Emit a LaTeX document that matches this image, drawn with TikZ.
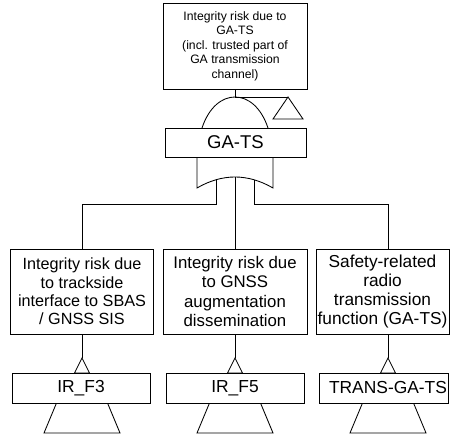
\documentclass[tikz,border=0pt]{standalone}
\usepackage{fontspec}
\setmainfont{Liberation Sans}
\begin{document}
\begin{tikzpicture}[x=1pt,y=-1pt,line width=0.85pt,line join=miter,
  evbox/.style={draw,fill=white,inner sep=0pt,align=center},
  basebox/.style={evbox,minimum height=30pt,font=\fontsize{17.4}{19}\selectfont}]
\useasboundingbox (0,0) rectangle (450,434);

% ---- top event ----
\node[evbox,minimum width=144pt,minimum height=86pt,
      font=\fontsize{12.2}{14.5}\selectfont] (top) at (235,46)
  {Integrity risk due to\\GA-TS\\(incl. trusted part of\\GA transmission\\channel)};

% OR gate with transfer triangle
\coordinate (orTop) at (235,97);
\coordinate (trA) at (288,97);
\draw (top.south) -- (orTop) -- (trA);
\draw (trA) -- (303,119) -- (273,119) -- cycle;
\draw (202,128) .. controls (209,107) and (222,97) .. (orTop)
      .. controls (248,97) and (261,107) .. (268,128);

% ---- intermediate event ----
\node[evbox,minimum width=141pt,minimum height=29pt,
      font=\fontsize{18.5}{20}\selectfont] (gats) at (235.5,142.5) {GA-TS};

% AND gate
\coordinate (andTop) at (235,177);
\draw (197,157) -- (197,188) .. controls (222.33,173.33) and (247.67,173.33) .. (273,188) -- (273,157);
\coordinate (legL) at (216,179.8);
\coordinate (legR) at (254,179.8);
\coordinate (c1) at (82,204);
\coordinate (c2) at (235,204);
\coordinate (c3) at (388,204);

% ---- basic events, upper row ----
\node[evbox,minimum width=143pt,minimum height=85pt,
      font=\fontsize{16.2}{18.3}\selectfont] (e1) at (82,291.5)
  {Integrity risk due\\to trackside\\interface to SBAS\\/ GNSS SIS};
\node[evbox,minimum width=144pt,minimum height=85pt,
      font=\fontsize{16.8}{19.3}\selectfont] (e2) at (235,291.5)
  {Integrity risk due\\to GNSS\\augmentation\\dissemination};
\node[evbox,minimum width=133pt,minimum height=85pt,
      font=\fontsize{17.3}{19.3}\selectfont] (e3) at (382.5,291.5)
  {Safety-related\\radio\\transmission\\function (GA-TS)};

% connectors below the AND gate
\draw (legL) -- (legL |- c1) -- (c1) -- (c1 |- e1.north);
\draw (legR) -- (legR |- c3) -- (c3) -- (c3 |- e3.north);
\draw (andTop) -- (e2.north);

% ---- transfer-in triangles (lower ones partly hidden by the base boxes) ----
\foreach \cx/\src in {82/e1,235/e2,388/e3}{
  \coordinate (ap\src) at (\cx,358);
  \draw (\cx-25.5,403) -- (\cx-38,433) -- (\cx+38,433) -- (\cx+25.5,403);
  \draw (\cx,358) -- (\cx+7.5,373) -- (\cx-7.5,373) -- cycle;
}
\draw (e1.south) -- (ape1);
\draw (e2.south) -- (ape2);
\draw (e3.south -| c3) -- (ape3);

\node[basebox,minimum width=138pt] (b1) at (81,388) {IR\_F3};
\node[basebox,minimum width=138pt] (b2) at (235,388) {IR\_F5};
\node[basebox,minimum width=129pt] (b3) at (383.5,388) {\hspace*{9pt}TRANS-GA-TS};
\end{tikzpicture}
\end{document}
